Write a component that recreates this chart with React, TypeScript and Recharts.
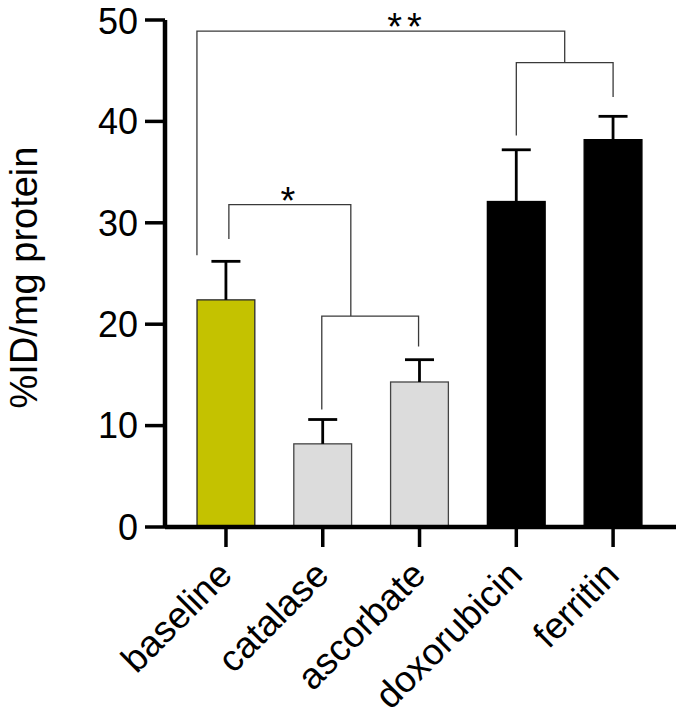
import React from 'react';
import { ComposedChart, Bar, Scatter, XAxis, YAxis } from 'recharts';

// ---- data ----
const categories = ['baseline', 'catalase', 'ascorbate', 'doxorubicin', 'ferritin'];
const means = [22.4, 8.2, 14.3, 32.1, 38.2];
const sems = [3.8, 2.4, 2.2, 5.1, 2.3];
const yTicks = [0, 10, 20, 30, 40, 50];

// significance brackets: polyline points in (category index, value) space
const bracketStarOne = [
  { idx: 0.03, y: 28.4 },
  { idx: 0.03, y: 31.8 },
  { idx: 1.29, y: 31.8 },
  { idx: 1.29, y: 20.8 },
];
const bracketCatAsc = [
  { idx: 0.99, y: 11.6 },
  { idx: 0.99, y: 20.8 },
  { idx: 1.99, y: 20.8 },
  { idx: 1.99, y: 17.8 },
];
const bracketStarTwo = [
  { idx: -0.3, y: 26.8 },
  { idx: -0.3, y: 48.9 },
  { idx: 3.5, y: 48.9 },
  { idx: 3.5, y: 45.8 },
];
const bracketDoxFer = [
  { idx: 3.0, y: 38.6 },
  { idx: 3.0, y: 45.8 },
  { idx: 4.0, y: 45.8 },
  { idx: 4.0, y: 42.4 },
];
const starMarks = [
  { idx: 0.64, y: 31.8, text: '*' },
  { idx: 1.87, y: 48.9, text: '**' },
];

// ---- styles ----
const FILLS = ['#C4C200', '#DCDCDC', '#DCDCDC', '#000000', '#000000'];
const STROKES = ['#2a2a2a', '#444444', '#444444', '#000000', '#000000'];
const FONT = '"Liberation Sans", Arial, Helvetica, sans-serif';
const BAR_W = 59;

const barData = categories.map((name, i) => ({ idx: i, name, value: means[i], err: sems[i] }));

const BarWithError = (props: any) => {
  const { x, y, width, height, payload } = props;
  const i = payload.idx;
  const pxPerUnit = height / payload.value;
  const cx = x + (width || 0) / 2;
  const top = y - payload.err * pxPerUnit;
  return (
    <g>
      <rect
        x={cx - BAR_W / 2 + 0.6}
        y={y}
        width={BAR_W - 1.2}
        height={height}
        fill={FILLS[i]}
        stroke={STROKES[i]}
        strokeWidth={1.3}
      />
      <line x1={cx} y1={y} x2={cx} y2={top} stroke="#000" strokeWidth={2.8} />
      <line x1={cx - 14.5} y1={top} x2={cx + 14.5} y2={top} stroke="#000" strokeWidth={2.8} />
    </g>
  );
};

const XTick = (props: any) => {
  const { x, y, payload } = props;
  const label = categories[payload.value];
  return (
    <g transform={`translate(${x + 8},${y + 28})`}>
      <text
        transform="rotate(-45)"
        textAnchor="end"
        fontSize={37}
        fontFamily={FONT}
        fill="#000"
      >
        {label}
      </text>
    </g>
  );
};

const StarShape = (props: any) => {
  const { cx, cy, payload } = props;
  return (
    <text
      x={cx}
      y={cy + 9}
      textAnchor="middle"
      fontSize={38}
      fontFamily={FONT}
      letterSpacing={payload.text.length > 1 ? 5 : 0}
      fill="#000"
    >
      {payload.text}
    </text>
  );
};

const NoShape = () => <g />;

const YLabel = (props: any) => {
  const { viewBox } = props;
  const cy = viewBox.y + viewBox.height / 2 + 4;
  const bx = 37;
  return (
    <text
      x={bx}
      y={cy}
      transform={`rotate(-90 ${bx} ${cy})`}
      textAnchor="middle"
      fontSize={38}
      fontFamily={FONT}
      fill="#000"
    >
      %ID/mg protein
    </text>
  );
};

const bracketLine = { stroke: '#3a3a3a', strokeWidth: 1.3 };

export default function App() {
  return (
    <div style={{ position: 'absolute', left: 0, top: 0, background: '#fff' }}>
      <ComposedChart
        width={681}
        height={720}
        data={barData}
        margin={{ top: 20, right: 5, left: 0, bottom: 0 }}
      >
        <XAxis
          dataKey="idx"
          type="number"
          domain={[-0.63, 4.65]}
          ticks={[0, 1, 2, 3, 4]}
          height={193}
          tickSize={20}
          axisLine={{ stroke: '#000', strokeWidth: 4.5 }}
          tickLine={{ stroke: '#000', strokeWidth: 3.5 }}
          tick={<XTick />}
          interval={0}
        />
        <YAxis
          type="number"
          domain={[0, 50]}
          ticks={yTicks}
          width={165}
          tickSize={20}
          tickMargin={7}
          axisLine={{ stroke: '#000', strokeWidth: 4.5 }}
          tickLine={{ stroke: '#000', strokeWidth: 3.5 }}
          tick={{ fontSize: 36, fontFamily: FONT, fill: '#000' }}
          label={<YLabel />}
        />
        <Bar dataKey="value" barSize={BAR_W} shape={<BarWithError />} isAnimationActive={false} />
        <Scatter data={bracketStarOne} dataKey="y" line={bracketLine} shape={<NoShape />} isAnimationActive={false} />
        <Scatter data={bracketCatAsc} dataKey="y" line={bracketLine} shape={<NoShape />} isAnimationActive={false} />
        <Scatter data={bracketStarTwo} dataKey="y" line={bracketLine} shape={<NoShape />} isAnimationActive={false} />
        <Scatter data={bracketDoxFer} dataKey="y" line={bracketLine} shape={<NoShape />} isAnimationActive={false} />
        <Scatter data={starMarks} dataKey="y" shape={<StarShape />} isAnimationActive={false} />
      </ComposedChart>
    </div>
  );
}
